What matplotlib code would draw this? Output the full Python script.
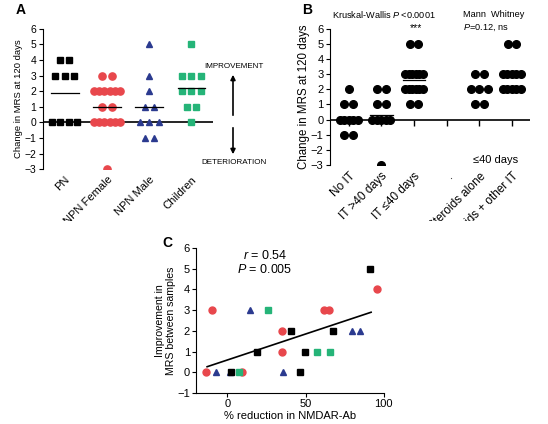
import matplotlib
matplotlib.use("Agg")
import matplotlib.pyplot as plt
import numpy as np
from matplotlib.transforms import Bbox

plt.rcParams['font.family'] = ['Liberation Sans', 'DejaVu Sans']
plt.rcParams['mathtext.fontset'] = 'custom'
plt.rcParams['mathtext.it'] = 'Liberation Sans:italic'
plt.rcParams['mathtext.rm'] = 'Liberation Sans'

RED = '#e8474c'
BLUE = '#2b3a8f'
GREEN = '#25b478'

# ---- panel A data: change in MRS at 120 days
a_labels = ['PN', 'NPN Female', 'NPN Male', 'Children']
a_pn = [4, 4, 3, 3, 3, 0, 0, 0, 0]
a_npn_f = [3, 3, 2, 2, 2, 2, 2, 2, 1, 1, 0, 0, 0, 0, 0, 0, -3]
a_npn_m = [5, 3, 2, 1, 1, 0, 0, 0, -1, -1]
a_child = [5, 3, 3, 3, 2, 2, 2, 1, 1, 0]

# ---- panel B data
b_labels = ['No IT', 'IT >40 days', 'IT \u226440 days', '.', 'Steroids alone', 'Steroids + other IT']
b_no_it = [2, 1, 1, 0, 0, 0, 0, 0, -1, -1]
b_it_late = [2, 2, 1, 1, 0, 0, 0, 0, 0, -3]
b_it_early = [5, 5, 3, 3, 3, 3, 3, 3, 2, 2, 2, 2, 2, 2, 1, 1]
b_ster = [3, 3, 2, 2, 2, 1, 1]
b_ster_other = [5, 5, 3, 3, 3, 3, 3, 2, 2, 2, 2, 2]

# ---- panel C data: % reduction in NMDAR-Ab vs improvement in MRS
c_red_x = [-14, -9.6, 9.2, 35, 35, 61.6, 64.8, 95.5]
c_red_y = [0, 3, 0, 2, 1, 3, 3, 4]
c_blue_x = [-7.5, 1.7, 14.4, 35.8, 80, 85.2]
c_blue_y = [0, 0, 3, 0, 2, 2]
c_green_x = [7.5, 26, 57.5, 66]
c_green_y = [0, 3, 1, 1]
c_black_x = [2.1, 18.9, 40.8, 46.6, 49.8, 67.6, 91.6]
c_black_y = [0, 1, 2, 0, 1, 2, 5]


def spread(vals, step, maxw):
    # horizontal offsets for points sharing the same value
    vals = np.array(vals, dtype=float)
    offs = np.zeros(len(vals))
    for v in np.unique(vals):
        idx = np.where(vals == v)[0]
        k = len(idx)
        if k > 1:
            s = min(step, maxw / (k - 1))
            offs[idx] = (np.arange(k) - (k - 1) / 2) * s
    return offs


fig = plt.figure(figsize=(5.48, 4.24), dpi=100)
clip = Bbox.from_extents(0, 424 - 221, 548, 424)

# ================= A =================
axA = fig.add_axes([0.078, 0.601, 0.31, 0.331])
groupsA = [a_pn, a_npn_f, a_npn_m, a_child]
stylesA = [('s', 'k', 4.8), ('o', RED, 5.2), ('^', BLUE, 5.0), ('s', GREEN, 4.8)]
for i, (g, (m, c, ms)) in enumerate(zip(groupsA, stylesA)):
    xs = i + spread(g, 0.22, 0.6)
    axA.plot(xs, g, ls='', marker=m, color=c, ms=ms, mec=c)
    mu = np.mean(g)
    axA.plot([i - 0.33, i + 0.33], [mu, mu], color='k', lw=0.9)
axA.axhline(0, color='k', lw=1.2, zorder=0)
axA.set_xlim(-0.52, 3.5)
axA.set_ylim(-3, 6)
axA.set_yticks(range(-3, 7))
axA.set_xticks(range(4))
axA.set_xticklabels(a_labels, rotation=45, ha='right', rotation_mode='anchor', fontsize=8)
axA.tick_params(axis='x', length=0, pad=4)
axA.tick_params(axis='y', labelsize=7.5, length=3, pad=1.5)
for s in ['top', 'right', 'bottom']:
    axA.spines[s].set_visible(False)
axA.set_ylabel('Change in MRS at 120 days', fontsize=6.8, labelpad=1)
for t in axA.get_xticklabels():
    t.set_clip_box(clip)
    t.set_clip_on(True)

fig.text(234 / 548, 1 - 66 / 424, 'IMPROVEMENT', fontsize=5.8, ha='center', va='center')
fig.text(234 / 548, 1 - 163 / 424, 'DETERIORATION', fontsize=5.8, ha='center', va='center')
fig.add_artist(matplotlib.patches.FancyArrowPatch((233 / 548, 1 - 118 / 424), (233 / 548, 1 - 72 / 424),
                                                  transform=fig.transFigure, arrowstyle='-|>', mutation_scale=7, lw=1.2, color='k'))
fig.add_artist(matplotlib.patches.FancyArrowPatch((233 / 548, 1 - 125 / 424), (233 / 548, 1 - 157 / 424),
                                                  transform=fig.transFigure, arrowstyle='-|>', mutation_scale=7, lw=1.2, color='k'))
fig.text(21 / 548, 1 - 10 / 424, 'A', fontsize=10, fontweight='bold', ha='center', va='center')

# ================= B =================
axB = fig.add_axes([0.602, 0.611, 0.365, 0.321])
groupsB = [b_no_it, b_it_late, b_it_early, None, b_ster, b_ster_other]
for i, g in enumerate(groupsB):
    if g is None:
        continue
    xs = i + spread(g, 0.27, 0.55)
    axB.plot(xs, g, ls='', marker='o', color='k', ms=5.5)
    mu = np.mean(g)
    axB.plot([i - 0.34, i + 0.34], [mu, mu], color='k', lw=0.9)
axB.axhline(0, color='k', lw=1.2, zorder=0)
axB.plot(range(6), [0] * 6, ls='', marker=3, ms=4, color='k', mew=1)
axB.set_xlim(-0.58, 5.55)
axB.set_ylim(-3, 6)
axB.set_yticks(range(-3, 7))
axB.set_xticks(range(6))
axB.set_xticklabels(b_labels, rotation=45, ha='right', rotation_mode='anchor', fontsize=8.5)
axB.tick_params(axis='x', length=0, pad=4)
axB.tick_params(axis='y', labelsize=8, length=3, pad=1.5)
for s in ['top', 'right', 'bottom']:
    axB.spines[s].set_visible(False)
axB.set_ylabel('Change in MRS at 120 days', fontsize=8.3, labelpad=1)
for t in axB.get_xticklabels():
    t.set_clip_box(clip)
    t.set_clip_on(True)
axB.text(1.07, 6.93, r'Kruskal-Wallis $P$ <0.0001', fontsize=6.6, ha='center', va='center')
axB.text(2.05, 6.08, '***', fontsize=7.5, ha='center', va='center')
axB.text(3.5, 6.93, 'Mann  Whitney', fontsize=6.6, ha='left', va='center')
axB.text(3.5, 6.08, r'$P$=0.12, ns', fontsize=6.6, ha='left', va='center')
axB.text(5.18, -2.67, '\u226440 days', fontsize=8, ha='right', va='center')
fig.text(307 / 548, 1 - 10 / 424, 'B', fontsize=10, fontweight='bold', ha='center', va='center')

# ================= C =================
axC = fig.add_axes([0.358, 0.073, 0.342, 0.342])
axC.plot(c_red_x, c_red_y, ls='', marker='o', color=RED, ms=5)
axC.plot(c_blue_x, c_blue_y, ls='', marker='^', color=BLUE, ms=5)
axC.plot(c_green_x, c_green_y, ls='', marker='s', color=GREEN, ms=5)
axC.plot(c_black_x, c_black_y, ls='', marker='s', color='k', ms=5)
all_x = np.concatenate([c_red_x, c_blue_x, c_green_x, c_black_x])
all_y = np.concatenate([c_red_y, c_blue_y, c_green_y, c_black_y])
k, b0 = np.polyfit(all_x, all_y, 1)
fx = np.array([-13, 92])
axC.plot(fx, k * fx + b0, color='k', lw=1.2)
axC.set_xlim(-20, 100)
axC.set_ylim(-1, 6)
axC.set_xticks([0, 50, 100])
axC.set_yticks(range(-1, 7))
axC.tick_params(labelsize=8, length=3, pad=1.5)
for s in ['top', 'right']:
    axC.spines[s].set_visible(False)
axC.set_xlabel('% reduction in NMDAR-Ab', fontsize=8, labelpad=1)
axC.set_ylabel('Improvement in\nMRS between samples', fontsize=7.6, labelpad=1, linespacing=1.1)
axC.text(24, 5.65, r'$r$ = 0.54', fontsize=9, ha='center', va='center')
axC.text(24, 4.98, r'$P$ = 0.005', fontsize=9, ha='center', va='center')
fig.text(167 / 548, 1 - 243 / 424, 'C', fontsize=10, fontweight='bold', ha='center', va='center')

fig.savefig('out.png', dpi=100)
